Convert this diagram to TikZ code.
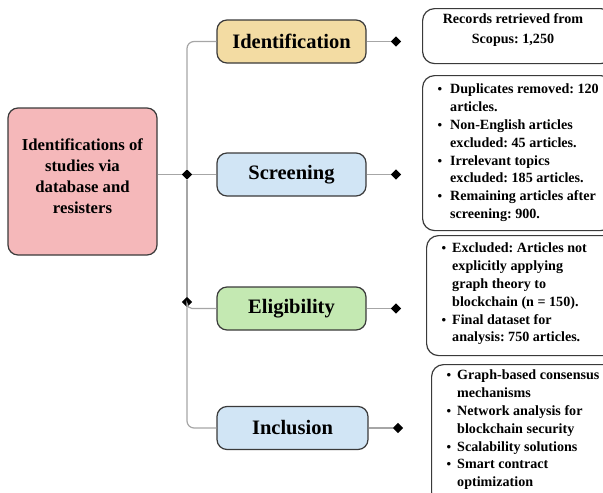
\documentclass[tikz,border=0pt]{standalone}
\usepackage{fontspec}
\setmainfont{Liberation Serif}
\usetikzlibrary{shapes.geometric}
\definecolor{pinkf}{HTML}{F5B8BA}
\definecolor{tanf}{HTML}{F3DCA3}
\definecolor{bluef}{HTML}{D1E5F5}
\definecolor{greenf}{HTML}{C4E9B2}
\definecolor{edgec}{HTML}{3A3A3A}
\definecolor{connc}{HTML}{A6A6A6}
\newcommand\myb[1]{\makebox[#1][l]{\hspace{0.5pt}\fontsize{13}{13}\selectfont\textbullet}}
\newcommand\myi[1]{\hspace*{#1}}
\frenchspacing
\begin{document}
\begin{tikzpicture}[x=1pt,y=-1pt,
 box/.style={draw=edgec,line width=1.2pt,rounded corners=10pt,inner sep=0pt},
 head/.style={box,minimum width=149pt,minimum height=43pt,font=\fontsize{20.5}{24}\selectfont\bfseries},
 dot/.style={diamond,fill=black,inner sep=0pt,minimum size=10.5pt},
 conn/.style={draw=connc,line width=1.2pt},
 rbox/.style={draw=edgec,line width=1.2pt,rounded corners=12pt,inner sep=0pt,anchor=north west},
 rtext/.style={inner sep=0pt,align=left,font=\fontsize{14.1}{17.8}\selectfont\bfseries},
]
\useasboundingbox (0,0) rectangle (603,493);
\clip (0,0) rectangle (603,493);
% left
\node[box,fill=pinkf,minimum width=149pt,minimum height=147pt] (main) at (82.5,181.5) {};
\node[align=center,inner sep=0pt,font=\fontsize{16.7}{21}\selectfont\bfseries] (mainlbl) at (82.5,176) {Identifications of\\studies via\\database and\\resisters};
% stage boxes
\node[head,fill=tanf] (ident) at (291.5,41.5) {Identification};
\node[head,fill=bluef] (screen) at (291.5,174.5) {Screening};
\node[head,fill=greenf] (elig) at (291.5,308.5) {Eligibility};
\node[head,fill=bluef,minimum width=151pt] (incl) at (292.5,428) {Inclusion};
% junctions
\node[dot] (j1) at (187,174.5) {};
\node[dot] (j2) at (187,302) {};
% right dots
\node[dot] (d1) at (396,41.5) {};
\node[dot] (d2) at (396,174.5) {};
\node[dot] (d3) at (396,308.5) {};
\node[dot] (d4) at (398,428) {};
% connectors
\draw[conn] (main.east |- j1) -- (j1);
\draw[conn] (j1) -- (screen.west);
\draw[conn,rounded corners=7pt] (ident.west) -| (j1);
\draw[conn] (j1) -- (j2);
\draw[conn,rounded corners=7pt] (j2) |- (incl.west);
\draw[conn,rounded corners=5pt] (j2) |- (elig.west);
\draw[conn] (ident.east) -- (d1);
\draw[conn] (screen.east) -- (d2);
\draw[conn] (elig.east) -- (d3);
\draw[conn] (incl.east) -- (d4);
% right boxes
\node[rbox,minimum width=190pt,minimum height=55pt] (r1) at (422,8) {};
\node[rbox,minimum width=190pt,minimum height=155pt] (r2) at (422,75) {};
\node[rbox,minimum width=190pt,minimum height=120pt] (r3) at (426,235) {};
\node[rbox,minimum width=190pt,minimum height=140pt] (r4) at (431,364) {};
\node[rtext,align=center,anchor=north,font=\fontsize{14.1}{20}\selectfont\bfseries] (t1) at (513,13) {Records retrieved from\\Scopus: 1,250};
\node[rtext,anchor=north west] (t2) at (437,84) {\myb{13pt}Duplicates removed: 120\\\myi{13pt}articles.\\\myb{13pt}Non-English articles\\\myi{13pt}excluded: 45 articles.\\\myb{13pt}Irrelevant topics\\\myi{13pt}excluded: 185 articles.\\\myb{13pt}Remaining articles after\\\myi{13pt}screening: 900.};
\node[rtext,anchor=north west] (t3) at (441,243) {\myb{11pt}Excluded: Articles not\\\myi{11pt}explicitly applying\\\myi{11pt}graph theory to\\\myi{11pt}blockchain (n = 150).\\\myb{11pt}Final dataset for\\\myi{11pt}analysis: 750 articles.};
\node[rtext,anchor=north west] (t4) at (446,370) {\myb{11pt}Graph-based consensus\\\myi{11pt}mechanisms\\\myb{11pt}Network analysis for\\\myi{11pt}blockchain security\\\myb{11pt}Scalability solutions\\\myb{11pt}Smart contract\\\myi{11pt}optimization};
\end{tikzpicture}
\end{document}
